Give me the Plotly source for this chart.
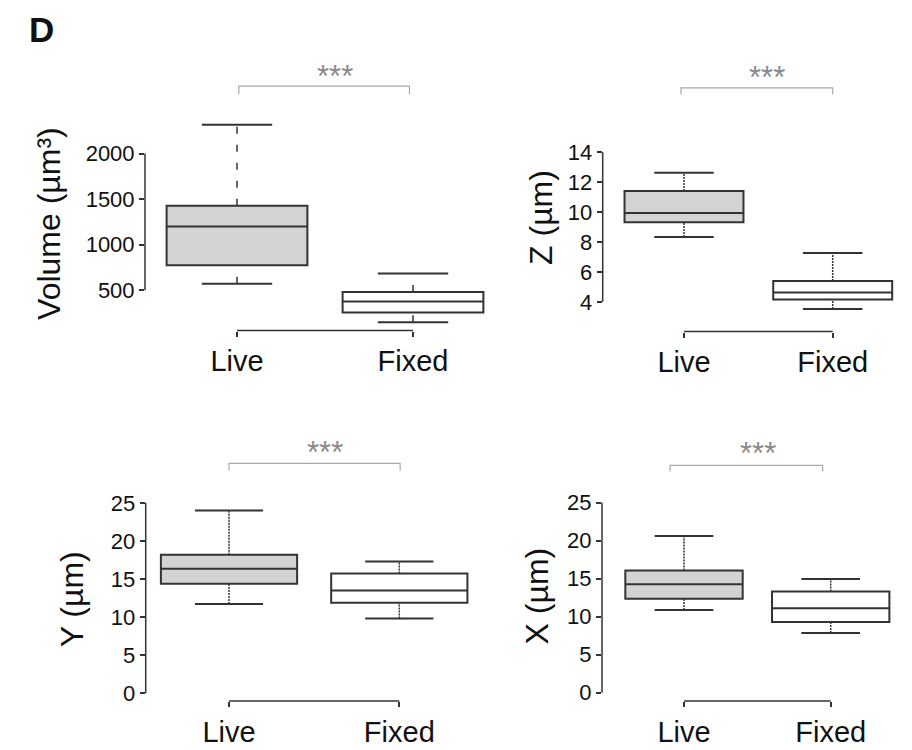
import plotly.graph_objects as go

W, H = 912, 750

groups = ["Live", "Fixed"]
fills = ["#d3d3d3", "#ffffff"]

# Volume (µm³)
volume_low = [573, 149]
volume_q1 = [775, 257]
volume_median = [1199, 377]
volume_q3 = [1427, 482]
volume_high = [2315, 685]
volume_ticks = [500, 1000, 1500, 2000]

# Z (µm)
z_low = [8.33, 3.52]
z_q1 = [9.32, 4.16]
z_median = [9.94, 4.62]
z_q3 = [11.42, 5.39]
z_high = [12.64, 7.27]
z_ticks = [4, 6, 8, 10, 12, 14]

# Y (µm)
y_low = [11.72, 9.82]
y_q1 = [14.37, 11.90]
y_median = [16.37, 13.50]
y_q3 = [18.19, 15.72]
y_high = [24.00, 17.32]
y_ticks = [0, 5, 10, 15, 20, 25]

# X (µm)
x_low = [10.89, 7.86]
x_q1 = [12.37, 9.29]
x_median = [14.27, 11.11]
x_q3 = [16.06, 13.32]
x_high = [20.61, 14.97]
x_ticks = [0, 5, 10, 15, 20, 25]

significance = "***"
panel_letter = "D"

FONT = "Liberation Sans, Arial, Helvetica, sans-serif"
DARK = "#333333"
GREY = "#a8a8a8"

panels = [
    dict(title="Volume (µm³)", low=volume_low, q1=volume_q1, med=volume_median, q3=volume_q3,
         high=volume_high, ticks=volume_ticks,
         axis_px=145, live_px=237, fixed_px=413,
         anchors=((2000, 153), (500, 291)), bot_py=331.7, top_py=112,
         title_xy=(49, 224), dash="7px,11px",
         br_x=(0.01, 0.98), br_py=(85, 93), star_x=0.557, star_py=71),
    dict(title="Z (µm)", low=z_low, q1=z_q1, med=z_median, q3=z_q3,
         high=z_high, ticks=z_ticks,
         axis_px=602.7, live_px=684, fixed_px=832.7,
         anchors=((14, 151.7), (4, 302.7)), bot_py=332.7, top_py=140,
         title_xy=(541, 218), dash="2px,1px",
         br_x=(-0.02, 1.0), br_py=(86.7, 93), star_x=0.558, star_py=72),
    dict(title="Y (µm)", low=y_low, q1=y_q1, med=y_median, q3=y_q3,
         high=y_high, ticks=y_ticks,
         axis_px=145.7, live_px=229, fixed_px=399.3,
         anchors=((25, 505.7), (0, 697.7)), bot_py=705.7, top_py=495,
         title_xy=(72, 603), dash="2px,1px",
         br_x=(0.0, 1.005), br_py=(465.7, 473), star_x=0.564, star_py=451),
    dict(title="X (µm)", low=x_low, q1=x_q1, med=x_median, q3=x_q3,
         high=x_high, ticks=x_ticks,
         axis_px=602, live_px=684, fixed_px=830.7,
         anchors=((25, 505.3), (0, 697.3)), bot_py=705.7, top_py=495,
         title_xy=(537, 600), dash="2px,1px",
         br_x=(-0.095, 0.945), br_py=(467.7, 474), star_x=0.502, star_py=452),
]

fig = go.Figure()
shapes = []
annotations = []
layout_axes = {}


def py2paper(py):
    return 1 - py / H


for i, p in enumerate(panels):
    n = i + 1
    xa = "x" if n == 1 else f"x{n}"
    ya = "y" if n == 1 else f"y{n}"
    xkey = "xaxis" if n == 1 else f"xaxis{n}"
    ykey = "yaxis" if n == 1 else f"yaxis{n}"

    s = p["fixed_px"] - p["live_px"]
    x_left = (p["axis_px"] - p["live_px"]) / s
    x_right = 1.5
    right_px = p["live_px"] + x_right * s

    (va, pa), (vb, pb) = p["anchors"]
    ppu = (pb - pa) / (va - vb)

    def val(py):
        return va + (pa - py) / ppu

    layout_axes[xkey] = dict(
        domain=[p["axis_px"] / W, min(right_px / W, 1.0)],
        range=[x_left, x_right], anchor=ya,
        tickvals=[0, 1], ticktext=groups, ticks="outside", ticklen=5,
        tickwidth=1.5, tickcolor=DARK, showline=False, showgrid=False,
        zeroline=False, tickfont=dict(family=FONT, size=29, color="#111111"),
        fixedrange=True,
    )
    layout_axes[ykey] = dict(
        domain=[py2paper(p["bot_py"]), py2paper(p["top_py"])],
        range=[val(p["bot_py"]), val(p["top_py"])], anchor=xa,
        tickvals=p["ticks"], ticks="outside", ticklen=5, tickwidth=1.5,
        tickcolor=DARK, showline=False, showgrid=False, zeroline=False,
        tickfont=dict(family=FONT, size=22, color="#111111"),
        fixedrange=True,
    )

    for g in range(2):
        fig.add_trace(go.Box(
            x=[g], q1=[p["q1"][g]], median=[p["med"][g]], q3=[p["q3"][g]],
            lowerfence=[p["q1"][g]], upperfence=[p["q3"][g]],
            width=0.8, whiskerwidth=0, fillcolor=fills[g],
            line=dict(color=DARK, width=2), boxpoints=False,
            showlegend=False, hoverinfo="skip", xaxis=xa, yaxis=ya,
            name=groups[g],
        ))
        # dashed whiskers
        for lo, hi in ((p["q3"][g], p["high"][g]), (p["low"][g], p["q1"][g])):
            fig.add_trace(go.Scatter(
                x=[g, g], y=[lo, hi], mode="lines",
                line=dict(color=DARK, width=1.5, dash=p["dash"]),
                showlegend=False, hoverinfo="skip", xaxis=xa, yaxis=ya,
            ))
        # whisker caps
        for v in (p["high"][g], p["low"][g]):
            fig.add_trace(go.Scatter(
                x=[g - 0.2, g + 0.2], y=[v, v], mode="lines",
                line=dict(color=DARK, width=2),
                showlegend=False, hoverinfo="skip", xaxis=xa, yaxis=ya,
            ))

    # y axis line spanning the tick range
    shapes.append(dict(type="line", xref=f"{xa} domain", yref=ya,
                       x0=0, x1=0, y0=p["ticks"][0], y1=p["ticks"][-1],
                       line=dict(color=DARK, width=1.5)))
    # x axis line between the two groups
    shapes.append(dict(type="line", xref=xa, yref=f"{ya} domain",
                       x0=0, x1=1, y0=0, y1=0,
                       line=dict(color=DARK, width=1.5)))
    # significance bracket
    bx0, bx1 = p["br_x"]
    btop, bbot = p["br_py"]
    shapes.append(dict(type="path", xref=xa, yref="paper",
                       path=(f"M {bx0} {py2paper(bbot)} L {bx0} {py2paper(btop)} "
                             f"L {bx1} {py2paper(btop)} L {bx1} {py2paper(bbot)}"),
                       line=dict(color=GREY, width=1.2)))
    annotations.append(dict(text=significance, xref=xa, yref="paper",
                            x=p["star_x"], y=py2paper(p["star_py"] + 4),
                            xanchor="center", yanchor="middle", showarrow=False,
                            font=dict(family=FONT, size=31, color="#8a8a8a")))
    annotations.append(dict(text=p["title"], xref="paper", yref="paper",
                            x=p["title_xy"][0] / W, y=py2paper(p["title_xy"][1]),
                            xanchor="center", yanchor="middle", textangle=-90,
                            showarrow=False,
                            font=dict(family=FONT, size=32, color="#111111")))

annotations.append(dict(text=f"<b>{panel_letter}</b>", xref="paper", yref="paper",
                        x=41.5 / W, y=py2paper(27.5), xanchor="center",
                        yanchor="middle", showarrow=False,
                        font=dict(family=FONT, size=35, color="#111111")))

fig.update_layout(
    width=W, height=H, margin=dict(l=0, r=0, t=0, b=0),
    paper_bgcolor="white", plot_bgcolor="white",
    shapes=shapes, annotations=annotations, showlegend=False,
    **layout_axes,
)

fig.write_html("out.html", config={"displayModeBar": False},
               post_script="document.body.style.margin='0';document.body.style.padding='0';")
